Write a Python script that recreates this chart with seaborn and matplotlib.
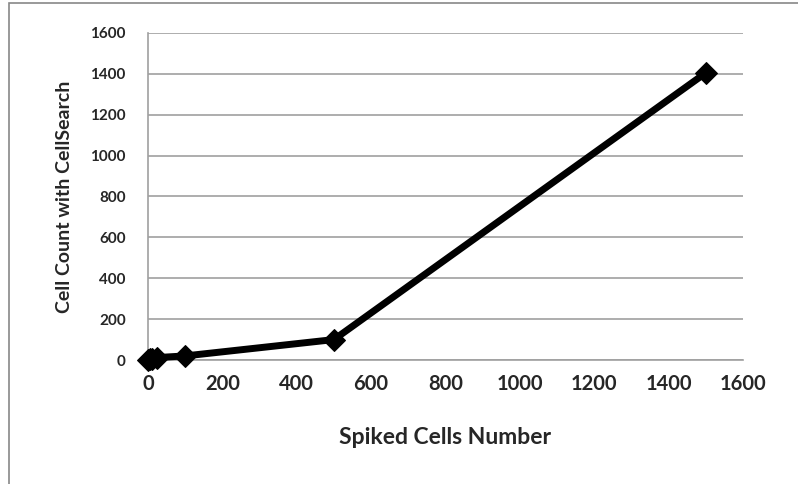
import matplotlib
matplotlib.use("Agg")
import matplotlib.pyplot as plt
import seaborn as sns
import pandas as pd
from matplotlib.patches import Rectangle

spiked = [0, 5, 10, 25, 100, 500, 1500]
counts = [0, 3, 7, 12, 20, 100, 1405]
x_ticks = [0, 200, 400, 600, 800, 1000, 1200, 1400, 1600]
y_ticks = [0, 200, 400, 600, 800, 1000, 1200, 1400, 1600]

sns.set_theme(style="white")
plt.rcParams['font.family'] = ['Lato', 'DejaVu Sans']

df = pd.DataFrame({"Spiked Cells Number": spiked, "Cell Count with CellSearch": counts})

fig = plt.figure(figsize=(7.98, 4.84), dpi=100)
ax = fig.add_axes([148/798, 1-360/484, (743-148)/798, (360-33)/484])
sns.lineplot(data=df, x="Spiked Cells Number", y="Cell Count with CellSearch", ax=ax,
             color="black", linewidth=5, marker="D", markersize=11.5,
             markeredgecolor="black", markerfacecolor="black", sort=False, zorder=3,
             clip_on=False)
ax.set_xlim(0, 1600)
ax.set_ylim(0, 1600)
ax.set_xticks(x_ticks)
ax.set_yticks(y_ticks)
ax.set_xticklabels([str(v) for v in x_ticks], fontsize=14.5, fontweight="bold")
ax.set_yticklabels([str(v) for v in y_ticks], fontsize=11, fontweight="bold")
ax.yaxis.grid(True, color="#a0a0a0", linewidth=1.2)
ax.xaxis.grid(False)
for s in ["top", "right"]:
    ax.spines[s].set_visible(False)
for s in ["left", "bottom"]:
    ax.spines[s].set_color("#a0a0a0")
    ax.spines[s].set_linewidth(1.2)
ax.tick_params(axis="x", length=0, pad=10)
ax.tick_params(axis="y", length=0, pad=16)
ax.set_xlabel("Spiked Cells Number", fontsize=16.5, fontweight="bold", labelpad=24)
ax.set_ylabel("Cell Count with CellSearch", fontsize=14, fontweight="bold", labelpad=12)

fig.patches.append(Rectangle((9/798, -0.1), 1.2, 1.1 - 3/484, transform=fig.transFigure,
                             fill=False, edgecolor="#888888", linewidth=1.2))
fig.savefig("out.png", dpi=100)
